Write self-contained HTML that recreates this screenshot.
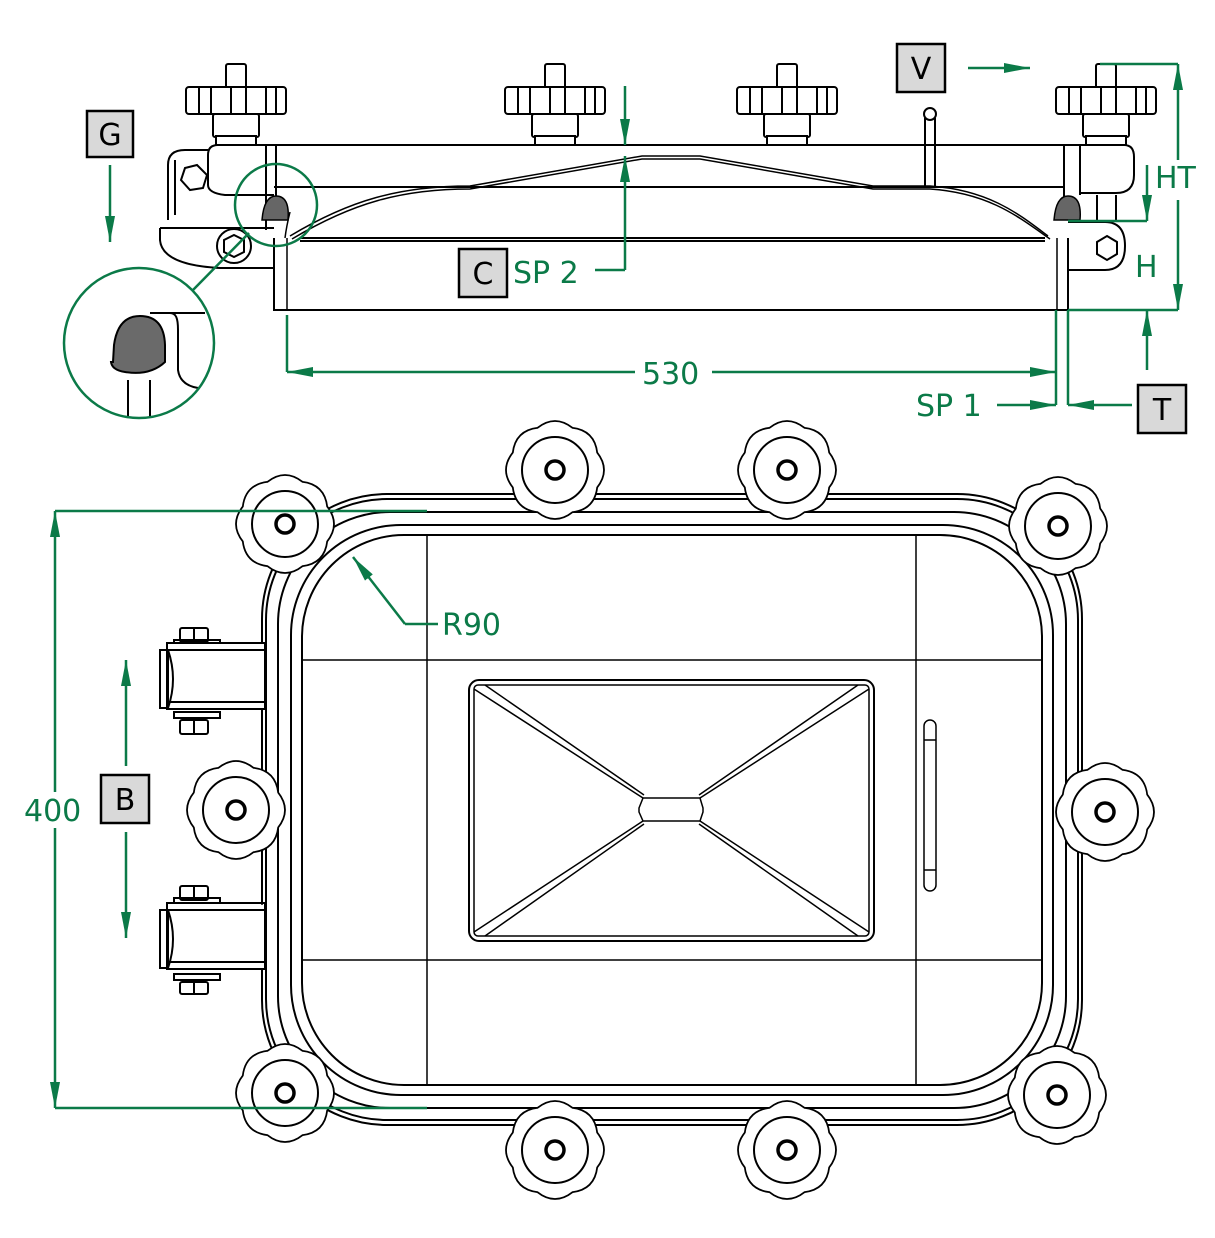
<!DOCTYPE html>
<html><head><meta charset="utf-8"><style>
html,body{margin:0;padding:0;background:#fff}
svg{display:block}
text{font-family:"DejaVu Sans","Liberation Sans",sans-serif}
</style></head><body>
<svg width="1215" height="1238" viewBox="0 0 1215 1238" xmlns="http://www.w3.org/2000/svg">
<defs>
<path id="sp" d="M40.65,-16.84 Q54,0 40.65,16.84 Q38.2,38.2 16.84,40.65 Q0,54 -16.84,40.65 Q-38.2,38.2 -40.65,16.84 Q-54,0 -40.65,-16.84 Q-38.2,-38.2 -16.84,-40.65 Q0,-54 16.84,-40.65 Q38.2,-38.2 40.65,-16.84Z"/>
<g id="star">
<use href="#sp" fill="#fff" stroke="#000" stroke-width="5"/>
<use href="#sp" fill="#fff" stroke="#fff" stroke-width="1.5"/>
<circle r="33" fill="none" stroke="#000" stroke-width="2"/>
<circle r="9" fill="none" stroke="#000" stroke-width="3.5"/>
</g>
<g id="tk" fill="#fff" stroke="#000" stroke-width="2">
<rect x="-10" y="0" width="20" height="24" rx="2"/>
<rect x="-50" y="23" width="100" height="27" rx="3"/>
<path d="M-37,23v27 M-25,23v27 M-5,23v27 M10,23v27 M30,23v27 M40,23v27" fill="none"/>
<rect x="-23" y="50" width="46" height="23" rx="2"/>
<rect x="-20" y="72" width="40" height="9"/>
</g>
<marker id="ar" viewBox="0 0 26 10" refX="26" refY="5" markerWidth="26" markerHeight="10" markerUnits="userSpaceOnUse" orient="auto-start-reverse"><path d="M0,0 L26,5 L0,10Z" fill="#0b7a48"/></marker>
</defs>

<g fill="none" stroke="#000" stroke-width="2">
<path d="M274,238 V310 H1068 V238"/>
<path d="M287,238 V310 M1057,238 V310" stroke-width="1.5"/>
<path d="M215,145 H1124 Q1134,145 1134,157 V175 Q1134,193 1116,193 H1080"/>
<path d="M208,155 Q208,145 218,145 M208,155 V185 Q208,193 225,195 H274"/>
<path d="M274,187 H1064 M300,238 H1045 M300,241 H1045"/>
<path d="M266,145 V230 M276,145 V200 M1064,145 V200 M1080,145 V195"/>
<path d="M290,236 C350,200 400,186 470,186 L642,156 H700 L873,186 H930 C990,190 1020,215 1048,236" stroke-width="1.5"/>
<path d="M292,239 C352,203 402,189 470,189 L642,159 H700 L873,189 H930 C990,193 1020,218 1050,239" stroke-width="1.5"/>
<path d="M285,238 C286,230 288,220 290,212" stroke-width="1.5"/>
<path d="M208,150 H185 Q168,150 168,165 V220 M175,160 V215"/>
<polygon points="197,165 207,175 203,188 190,190 181,180 185,168"/>
<path d="M160,228 H274 M160,228 V240 Q162,265 220,268 H274"/>
<circle cx="234" cy="246" r="17"/>
<polygon points="234,235 244,240 244,252 234,257 224,252 224,240"/>
<path d="M1068,222 H1105 Q1125,222 1125,246 Q1125,270 1105,270 H1068"/>
<polygon points="1107,236 1117,242 1117,254 1107,260 1097,254 1097,242"/>
<path d="M1097,195 V222 M1116,195 V222"/>
<path d="M925,118 V186 M935,118 V186"/>
<circle cx="930" cy="114" r="6" fill="#fff"/>
</g>
<path d="M262,220 Q264,196 276,196 Q290,196 288,220 Z" fill="#666" stroke="#000" stroke-width="1.5"/>
<path d="M1054,220 Q1056,196 1068,196 Q1082,196 1080,220 Z" fill="#666" stroke="#000" stroke-width="1.5"/>
<use href="#tk" transform="translate(236,64)"/>
<use href="#tk" transform="translate(555,64)"/>
<use href="#tk" transform="translate(787,64)"/>
<use href="#tk" transform="translate(1106,64)"/>

<g fill="none" stroke="#000" stroke-width="2">
<path d="M150,313 H205 M128,380 V418 M150,380 V418 M170,313 C176,313 178,318 178,330 V370 Q180,385 198,388"/>
</g>
<path d="M113,362 L114,345 Q118,316 140,316 Q164,316 165,345 L165,362 Q150,376 125,372 Q112,370 111,362Z" fill="#6a6a6a" stroke="#000" stroke-width="2"/>
<g fill="none" stroke="#0b7a48" stroke-width="2.5">
<circle cx="139" cy="343" r="75"/>
<circle cx="276" cy="205" r="41"/>
<path d="M193,290 L249,233"/>
</g>

<g fill="none" stroke="#000" stroke-width="2">
<rect x="262" y="494" width="820" height="631" rx="125"/>
<rect x="266" y="499" width="812" height="621" rx="121"/>
<rect x="278" y="512" width="788" height="596" rx="112"/>
<rect x="291" y="525" width="762" height="570" rx="110"/>
<rect x="302" y="535" width="740" height="550" rx="102"/>
<path d="M427,535 V1085 M916,535 V1085 M302,660 H1042 M302,960 H1042" stroke-width="1.5"/>
<rect x="469" y="680" width="405" height="261" rx="10"/>
<rect x="474" y="685" width="395" height="251" rx="4" stroke-width="1.5"/>
<polygon points="643,798 700,798 703,808 703,812 700,821 643,821 639,812 639,808" stroke-width="1.5"/>
<path d="M474,689 L643,798 M485,685 L644,795 M474,932 L643,821 M485,936 L644,824 M869,689 L700,798 M858,685 L699,795 M869,932 L700,821 M858,936 L699,824" stroke-width="1.5"/>
<rect x="924" y="720" width="12" height="171" rx="6" stroke-width="1.5"/>
<path d="M924,740 H936 M924,870 H936" stroke-width="1.5"/>
<g>
<rect x="167" y="643" width="98" height="66" fill="#fff"/>
<path d="M167,650 H265 M167,702 H265"/>
<rect x="160" y="650" width="8" height="58"/>
<path d="M168,650 Q178,679 168,708"/>
<rect x="180" y="628" width="28" height="14" rx="2"/><rect x="174" y="640" width="46" height="3"/>
<rect x="180" y="720" width="28" height="14" rx="2"/><rect x="174" y="712" width="46" height="6"/>
<path d="M194,628 V642 M194,720 V734"/>
</g>
<g transform="translate(0,260)">
<rect x="167" y="643" width="98" height="66" fill="#fff"/>
<path d="M167,650 H265 M167,702 H265"/>
<rect x="160" y="650" width="8" height="58"/>
<path d="M168,650 Q178,679 168,708"/>
<rect x="180" y="626" width="28" height="14" rx="2"/><rect x="174" y="638" width="46" height="5"/>
<rect x="180" y="722" width="28" height="12" rx="2"/><rect x="174" y="714" width="46" height="6"/>
<path d="M194,626 V640 M194,722 V734"/>
</g>
<path d="M262,715 V905 M266,715 V905" stroke-width="1.5"/>
</g>
<use href="#star" transform="translate(285,524)"/>
<use href="#star" transform="translate(555,470)"/>
<use href="#star" transform="translate(787,470)"/>
<use href="#star" transform="translate(1058,526)"/>
<use href="#star" transform="translate(236,810)"/>
<use href="#star" transform="translate(1105,812)"/>
<use href="#star" transform="translate(285,1093)"/>
<use href="#star" transform="translate(1057,1095)"/>
<use href="#star" transform="translate(555,1150)"/>
<use href="#star" transform="translate(787,1150)"/>

<g fill="none" stroke="#0b7a48" stroke-width="2.5">
<path d="M55,511 H427 M55,1108 H427"/>
<path d="M55,792 V511" marker-end="url(#ar)"/>
<path d="M55,828 V1108" marker-end="url(#ar)"/>
<path d="M126,766 V660" marker-end="url(#ar)"/>
<path d="M126,832 V938" marker-end="url(#ar)"/>
<path d="M405,624 H438"/>
<path d="M405,624 L353,557" marker-end="url(#ar)"/>
<path d="M110,165 V242" marker-end="url(#ar)"/>
<path d="M968,68 H1030" marker-end="url(#ar)"/>
<path d="M287,315 V372 M1056,310 V405 M1068,310 V405"/>
<path d="M635,372 H287" marker-end="url(#ar)"/>
<path d="M712,372 H1056" marker-end="url(#ar)"/>
<path d="M997,405 H1056" marker-end="url(#ar)"/>
<path d="M1132,405 H1068" marker-end="url(#ar)"/>
<path d="M625,86 V145" marker-end="url(#ar)"/>
<path d="M625,270 V156" marker-end="url(#ar)"/>
<path d="M595,270 H625"/>
<path d="M1100,64 H1178 M1068,310 H1178 M1068,221 H1147"/>
<path d="M1178,160 V64" marker-end="url(#ar)"/>
<path d="M1178,200 V310" marker-end="url(#ar)"/>
<path d="M1147,165 V221" marker-end="url(#ar)"/>
<path d="M1147,370 V310" marker-end="url(#ar)"/>
</g>
<g fill="#0b7a48" font-size="30">
<text x="642" y="384">530</text>
<text x="513" y="283">SP 2</text>
<text x="916" y="416">SP 1</text>
<text x="1155" y="188">HT</text>
<text x="1135" y="277">H</text>
<text x="24" y="821">400</text>
<text x="442" y="635">R90</text>
</g>
<g stroke="#000" stroke-width="2.5" fill="#d9d9d9">
<rect x="87" y="111" width="46" height="46"/>
<rect x="897" y="44" width="48" height="48"/>
<rect x="459" y="249" width="48" height="48"/>
<rect x="1138" y="385" width="48" height="48"/>
<rect x="101" y="775" width="48" height="48"/>
</g>
<g fill="#000" font-size="30" text-anchor="middle">
<text x="110" y="145">G</text>
<text x="921" y="79">V</text>
<text x="483" y="284">C</text>
<text x="1162" y="420">T</text>
<text x="125" y="810">B</text>
</g>
</svg>
</body></html>
